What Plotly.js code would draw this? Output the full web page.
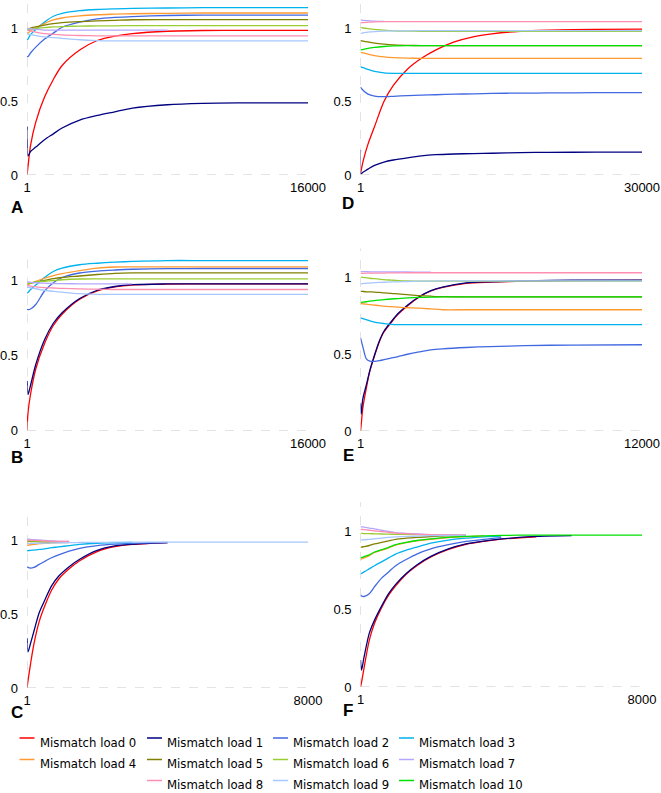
<!DOCTYPE html>
<html>
<head>
<meta charset="utf-8">
<script src="https://cdn.plot.ly/plotly-3.0.1.min.js"></script>
<style>
  html, body { margin: 0; padding: 0; background: #fff; }
</style>
</head>
<body>
<div id="chart" style="width:661px;height:793px;"></div>
<script>
// series names and colours (mismatch load 0 .. 10)
const names = ['Mismatch load 0', 'Mismatch load 1', 'Mismatch load 2', 'Mismatch load 3',
  'Mismatch load 4', 'Mismatch load 5', 'Mismatch load 6', 'Mismatch load 7',
  'Mismatch load 8', 'Mismatch load 9', 'Mismatch load 10'];
const colors = ['#FF0000', '#000080', '#4169E1', '#00B2EE', '#FF9A30', '#808000',
  '#9ACD32', '#B4A7FF', '#FF8FB1', '#A6C8FF', '#00E000'];

const panelLetters = ['A', 'B', 'C', 'D', 'E', 'F'];
const xMax = [16000, 16000, 8000, 30000, 12000, 8000];

// ---- panel A ----
const xA = [1, 60, 200, 500, 1000, 1500, 2000, 3000, 4000, 5000, 6000, 8000, 10000, 12000, 16000];
const yA = [
  [0, 0.06, 0.2, 0.36, 0.53, 0.65, 0.745, 0.85, 0.915, 0.945, 0.962, 0.978, 0.983, 0.984, 0.984],
  [0.33, 0.13, 0.16, 0.19, 0.24, 0.28, 0.32, 0.374, 0.405, 0.43, 0.455, 0.478, 0.487, 0.49, 0.49],
  [0.805, 0.806, 0.83, 0.87, 0.925, 0.965, 1.005, 1.04, 1.062, 1.072, 1.078, 1.085, 1.088, 1.088, 1.088],
  [0.92, 0.925, 0.955, 0.99, 1.04, 1.08, 1.1, 1.118, 1.126, 1.13, 1.133, 1.136, 1.138, 1.138, 1.138],
  [0.965, 0.967, 0.98, 1.0, 1.03, 1.055, 1.068, 1.082, 1.09, 1.094, 1.097, 1.1, 1.102, 1.102, 1.102],
  [0.99, 0.99, 1.0, 1.008, 1.02, 1.03, 1.037, 1.044, 1.048, 1.052, 1.056, 1.057, 1.057, 1.057, 1.057],
  [0.99, 0.99, 0.993, 0.998, 1.003, 1.007, 1.01, 1.013, 1.014, 1.015, 1.016, 1.016, 1.016, 1.016, 1.016],
  [0.998, 0.997, 0.994, 0.99, 0.986, 0.985, 0.985, 0.985, 0.985, 0.985, 0.985, 0.985],
  [0.985, 0.984, 0.98, 0.972, 0.962, 0.957, 0.953, 0.949, 0.947, 0.946, 0.946, 0.946, 0.946, 0.946, 0.946],
  [0.96, 0.959, 0.955, 0.948, 0.94, 0.935, 0.93, 0.92, 0.914, 0.912, 0.912, 0.912, 0.912, 0.912, 0.912],
  []
];

// ---- panel B ----
const xB = [1, 60, 200, 500, 1000, 1500, 2000, 3000, 4000, 5000, 6000, 8000, 10000, 12000, 16000];
const yB = [
  [0, 0.12, 0.24, 0.41, 0.58, 0.7, 0.775, 0.875, 0.93, 0.957, 0.97, 0.976, 0.978, 0.978, 0.978],
  [0.33, 0.24, 0.3, 0.44, 0.605, 0.715, 0.785, 0.88, 0.935, 0.96, 0.972, 0.977, 0.978, 0.978, 0.978],
  [0.807, 0.806, 0.81, 0.84, 0.93, 0.985, 1.02, 1.05, 1.063, 1.07, 1.075, 1.079, 1.08, 1.08, 1.08],
  [0.918, 0.92, 0.94, 0.97, 1.02, 1.06, 1.082, 1.105, 1.115, 1.122, 1.127, 1.133, 1.133, 1.133, 1.133],
  [0.97, 0.972, 0.98, 0.995, 1.015, 1.033, 1.046, 1.066, 1.083, 1.09, 1.091, 1.091, 1.091, 1.091, 1.091],
  [0.98, 0.98, 0.984, 0.99, 1.0, 1.012, 1.02, 1.03, 1.04, 1.048, 1.051, 1.051, 1.051, 1.051, 1.051],
  [0.98, 0.98, 0.983, 0.99, 0.995, 1.0, 1.005, 1.01, 1.011, 1.011, 1.011, 1.011, 1.011, 1.011, 1.011],
  [0.99, 0.99, 0.988, 0.985, 0.982, 0.98, 0.979, 0.978, 0.978, 0.978, 0.978],
  [0.965, 0.965, 0.962, 0.958, 0.953, 0.95, 0.947, 0.944, 0.942, 0.94, 0.94, 0.94, 0.94, 0.94, 0.94],
  [0.955, 0.955, 0.952, 0.945, 0.935, 0.928, 0.922, 0.912, 0.908, 0.907, 0.907, 0.907, 0.907, 0.907, 0.907],
  []
];

// ---- panel C ----
const xC = [1, 30, 100, 200, 350, 500, 700, 900, 1200, 1500, 2000, 2500, 3000, 3500, 4000, 5000, 6000, 8000];
const yC = [
  [0, 0.05, 0.16, 0.3, 0.45, 0.55, 0.66, 0.735, 0.805, 0.86, 0.922, 0.955, 0.97, 0.977, 0.982],
  [0.336, 0.245, 0.3, 0.385, 0.51, 0.59, 0.69, 0.755, 0.82, 0.87, 0.93, 0.96, 0.972, 0.978, 0.982],
  [0.82, 0.815, 0.81, 0.815, 0.835, 0.855, 0.88, 0.9, 0.925, 0.944, 0.962, 0.972, 0.977, 0.98, 0.983],
  [0.928, 0.928, 0.93, 0.932, 0.936, 0.94, 0.948, 0.953, 0.962, 0.97, 0.978, 0.982, 0.984],
  [0.965, 0.966, 0.968, 0.97, 0.975, 0.978, 0.98, 0.982, 0.983],
  [0.99, 0.99, 0.99, 0.989, 0.988, 0.987, 0.986, 0.985, 0.985],
  [0.995, 0.995, 0.994, 0.993, 0.992, 0.99, 0.989, 0.988, 0.988],
  [1.005, 1.005, 1.004, 1.002, 1.0, 0.997, 0.994, 0.991, 0.99],
  [1.0, 1.0, 0.999, 0.998, 0.996, 0.994, 0.992, 0.99, 0.99],
  [0.975, 0.975, 0.976, 0.977, 0.978, 0.979, 0.98, 0.981, 0.982, 0.983, 0.984, 0.985, 0.985, 0.985, 0.985, 0.985, 0.985, 0.985],
  []
];

// ---- panel D ----
const xD = [1, 30, 300, 800, 1500, 2500, 3500, 5000, 6500, 8000, 10000, 12000, 14000, 17000, 20000, 25000, 30000];
const yD = [
  [0.01, 0.02, 0.1, 0.21, 0.33, 0.5, 0.61, 0.72, 0.794, 0.85, 0.905, 0.94, 0.96, 0.978, 0.985, 0.99, 0.993],
  [0.17, 0.01, 0.02, 0.04, 0.066, 0.088, 0.102, 0.117, 0.13, 0.138, 0.143, 0.146, 0.148, 0.152, 0.154, 0.155, 0.155],
  [0.6, 0.595, 0.575, 0.55, 0.537, 0.533, 0.535, 0.54, 0.543, 0.546, 0.55, 0.552, 0.555, 0.557, 0.558, 0.56, 0.56],
  [0.737, 0.736, 0.73, 0.718, 0.705, 0.695, 0.692, 0.692, 0.692, 0.692, 0.692, 0.692, 0.692, 0.692, 0.692, 0.692, 0.692],
  [0.835, 0.835, 0.83, 0.822, 0.812, 0.803, 0.798, 0.795, 0.794, 0.794, 0.794, 0.794, 0.794, 0.794, 0.794, 0.794, 0.794],
  [0.914, 0.914, 0.91, 0.905, 0.897, 0.89, 0.885, 0.882, 0.88, 0.88, 0.88, 0.88, 0.88, 0.88, 0.88, 0.88, 0.88],
  [1.005, 1.005, 1.0, 0.995, 0.99, 0.985, 0.981, 0.979, 0.978, 0.978, 0.978, 0.978, 0.978, 0.978, 0.978, 0.978, 0.978],
  [1.055, 1.055, 1.052, 1.05, 1.047, 1.045],
  [1.035, 1.035, 1.037, 1.04, 1.042, 1.043, 1.043, 1.043, 1.043, 1.043, 1.043, 1.043, 1.043, 1.043, 1.043, 1.043, 1.043],
  [0.964, 0.964, 0.967, 0.972, 0.976, 0.979, 0.98, 0.981, 0.982, 0.982, 0.982, 0.982, 0.982, 0.982, 0.982, 0.982, 0.982],
  [0.85, 0.85, 0.855, 0.862, 0.868, 0.874, 0.878, 0.88, 0.88, 0.88, 0.88, 0.88, 0.88, 0.88, 0.88, 0.88, 0.88]
];

// ---- panel E ----
const xE = [1, 30, 100, 250, 400, 600, 800, 1000, 1300, 1600, 2000, 2500, 3000, 3500, 4500, 5500, 7000, 9000, 12000];
const yE = [
  [0, 0.04, 0.15, 0.28, 0.39, 0.49, 0.58, 0.645, 0.705, 0.76, 0.815, 0.872, 0.912, 0.935, 0.962, 0.97, 0.976, 0.98, 0.981],
  [0.18, 0.11, 0.21, 0.3, 0.395, 0.495, 0.585, 0.65, 0.71, 0.765, 0.82, 0.875, 0.915, 0.938, 0.965, 0.972, 0.978, 0.982, 0.982],
  [0.606, 0.59, 0.55, 0.47, 0.455, 0.454, 0.458, 0.465, 0.475, 0.485, 0.5, 0.515, 0.528, 0.535, 0.544, 0.55, 0.556, 0.56, 0.562],
  [0.736, 0.736, 0.732, 0.725, 0.718, 0.71, 0.704, 0.7, 0.695, 0.693, 0.693, 0.693, 0.693, 0.693, 0.693, 0.693, 0.693, 0.693, 0.693],
  [0.83, 0.83, 0.829, 0.826, 0.823, 0.82, 0.817, 0.813, 0.81, 0.807, 0.803, 0.8, 0.795, 0.79, 0.79, 0.79, 0.79, 0.79, 0.79],
  [0.91, 0.91, 0.909, 0.907, 0.906, 0.905, 0.903, 0.9, 0.897, 0.893, 0.888, 0.882, 0.878, 0.875, 0.874, 0.874, 0.874, 0.874, 0.874],
  [1.002, 1.002, 1.001, 0.998, 0.995, 0.992, 0.989, 0.986, 0.983, 0.98, 0.978, 0.976, 0.976, 0.976, 0.976, 0.976, 0.976, 0.976, 0.976],
  [1.038, 1.038, 1.038, 1.038, 1.037, 1.037, 1.037, 1.037, 1.036, 1.036, 1.036, 1.035, 1.035],
  [1.027, 1.027, 1.027, 1.028, 1.028, 1.028, 1.029, 1.029, 1.03, 1.03, 1.031, 1.031, 1.031, 1.031, 1.031, 1.031, 1.031, 1.031, 1.031],
  [0.959, 0.959, 0.96, 0.962, 0.964, 0.966, 0.968, 0.969, 0.971, 0.972, 0.974, 0.976, 0.977, 0.978, 0.978, 0.978, 0.978, 0.978, 0.978],
  [0.838, 0.838, 0.839, 0.842, 0.846, 0.85, 0.853, 0.856, 0.86, 0.863, 0.867, 0.87, 0.872, 0.874, 0.874, 0.874, 0.874, 0.874, 0.874]
];

// ---- panel F ----
const xF = [1, 30, 100, 250, 400, 600, 800, 1000, 1300, 1600, 2000, 2500, 3000, 3500, 4000, 5000, 6000, 8000];
const yF = [
  [0, 0.03, 0.12, 0.3, 0.41, 0.51, 0.59, 0.65, 0.725, 0.78, 0.836, 0.885, 0.918, 0.937, 0.951, 0.966],
  [0.174, 0.109, 0.19, 0.345, 0.43, 0.52, 0.6, 0.66, 0.73, 0.785, 0.84, 0.888, 0.92, 0.938, 0.952, 0.968, 0.973],
  [0.592, 0.585, 0.582, 0.6, 0.645, 0.7, 0.74, 0.78, 0.82, 0.855, 0.888, 0.915, 0.936, 0.95, 0.961],
  [0.727, 0.73, 0.74, 0.76, 0.78, 0.805, 0.83, 0.855, 0.88, 0.9, 0.925, 0.945, 0.957, 0.966, 0.97],
  [0.82, 0.823, 0.83, 0.845, 0.865, 0.88, 0.895, 0.913, 0.928, 0.94, 0.95, 0.96, 0.967, 0.972],
  [0.898, 0.9, 0.903, 0.91, 0.92, 0.93, 0.94, 0.95, 0.957, 0.962, 0.967, 0.972, 0.975],
  [0.988, 0.988, 0.987, 0.986, 0.985, 0.984, 0.983, 0.982, 0.981, 0.98, 0.979, 0.978, 0.977],
  [1.031, 1.03, 1.028, 1.022, 1.017, 1.008, 1.0, 0.993, 0.988, 0.984, 0.98, 0.978],
  [1.014, 1.014, 1.012, 1.008, 1.004, 1.0, 0.995, 0.99, 0.986, 0.983, 0.98, 0.979, 0.978],
  [0.945, 0.946, 0.947, 0.95, 0.953, 0.958, 0.962, 0.965, 0.968, 0.97, 0.973, 0.975, 0.977],
  [0.83, 0.832, 0.838, 0.85, 0.868, 0.883, 0.898, 0.915, 0.93, 0.942, 0.952, 0.962, 0.968, 0.972, 0.975, 0.977, 0.977, 0.977]
];

const xs = [xA, xB, xC, xD, xE, xF];
const ys = [yA, yB, yC, yD, yE, yF];

// pixel placement of each panel (plot area) in the 661x793 page
const W = 661, H = 793;
const leftDom = [27 / W, 308 / W];
const rightDom = [360.5 / W, 642 / W];
const yTop = 1.19;
// [bottom px of y=0, px per unit]
const yPix = [[175, 147], [430.5, 150], [688, 148], [175, 147], [431, 153.5], [687, 155.5]];
const letterPos = [[17, 207], [17, 457], [17, 712], [348, 204], [348, 455], [348, 710]];

// legend key: text start x per column, text centre y per row
const keyTextX = [37.5, 165, 291, 417];
const keyRowY = [742, 763.5, 784.5];
const legendFont = {family: 'Liberation Sans Narrow, Arial Narrow, DejaVu Sans Condensed, Liberation Sans, Arial, sans-serif', size: 13, color: '#000'};

let traces = [];
let layout = {
  width: W, height: H,
  margin: {l: 0, r: 0, t: 0, b: 0},
  paper_bgcolor: '#fff', plot_bgcolor: '#fff',
  font: {family: 'Liberation Sans, Arial, sans-serif', size: 13, color: '#000'},
  showlegend: false,
  shapes: [],
  annotations: []
};

for (let p = 0; p < 6; p++) {
  let k = p + 1;
  let xa = 'x' + (k === 1 ? '' : k), ya = 'y' + (k === 1 ? '' : k);
  let bottom = yPix[p][0], unit = yPix[p][1];
  let top = bottom - yTop * unit;
  layout['xaxis' + (k === 1 ? '' : k)] = {
    domain: p < 3 ? leftDom : rightDom,
    range: [1, xMax[p]],
    tickvals: [1, xMax[p]], ticktext: ['1', String(xMax[p])],
    showgrid: false, zeroline: false, showline: false, ticks: '',
    anchor: ya, fixedrange: true, ticklabelstandoff: 3
  };
  layout['yaxis' + (k === 1 ? '' : k)] = {
    domain: [1 - bottom / H, 1 - top / H],
    range: [0, yTop],
    tickvals: [0, 0.5, 1], ticktext: ['0', '0.5', '1'],
    showgrid: false, zeroline: false, showline: false, ticks: '',
    anchor: xa, fixedrange: true, ticklabelstandoff: 8
  };
  // dashed axis lines
  layout.shapes.push({type: 'line', xref: xa, yref: ya, x0: 1, x1: xMax[p], y0: 0, y1: 0,
    line: {color: '#C8C8C8', width: 1, dash: 'dash'}});
  layout.shapes.push({type: 'line', xref: xa, yref: ya, x0: 1, x1: 1, y0: 0, y1: yTop,
    line: {color: '#C8C8C8', width: 1, dash: 'dash'}});
  layout.annotations.push({xref: 'paper', yref: 'paper', x: letterPos[p][0] / W, y: 1 - letterPos[p][1] / H,
    text: '<b>' + panelLetters[p] + '</b>', showarrow: false, xanchor: 'center', yanchor: 'middle',
    font: {size: 17, color: '#000'}});

  for (let s = 0; s < 11; s++) {
    let yv = ys[p][s];
    traces.push({
      x: xs[p].slice(0, yv.length), y: yv,
      type: 'scatter', mode: 'lines',
      line: {color: colors[s], width: 1.3, shape: 'spline', smoothing: 0.8},
      name: names[s],
      xaxis: xa, yaxis: ya,
      hoverinfo: 'skip'
    });
  }
}

// legend key below the panels: 4 columns, last row starts in the second column
for (let s = 0; s < 11; s++) {
  let row = s < 8 ? Math.floor(s / 4) : 2;
  let col = s < 8 ? s % 4 : s - 7;
  let tx = keyTextX[col], ty = keyRowY[row];
  layout.shapes.push({type: 'line', xref: 'paper', yref: 'paper',
    x0: (tx - 18) / W, x1: (tx - 3) / W, y0: 1 - (ty - 4) / H, y1: 1 - (ty - 4) / H,
    line: {color: colors[s], width: 1.5}});
  layout.annotations.push({xref: 'paper', yref: 'paper', x: tx / W, y: 1 - ty / H,
    text: names[s], showarrow: false, xanchor: 'left', yanchor: 'middle',
    font: legendFont});
}

Plotly.newPlot('chart', traces, layout, {staticPlot: true, displayModeBar: false});
</script>
</body>
</html>
